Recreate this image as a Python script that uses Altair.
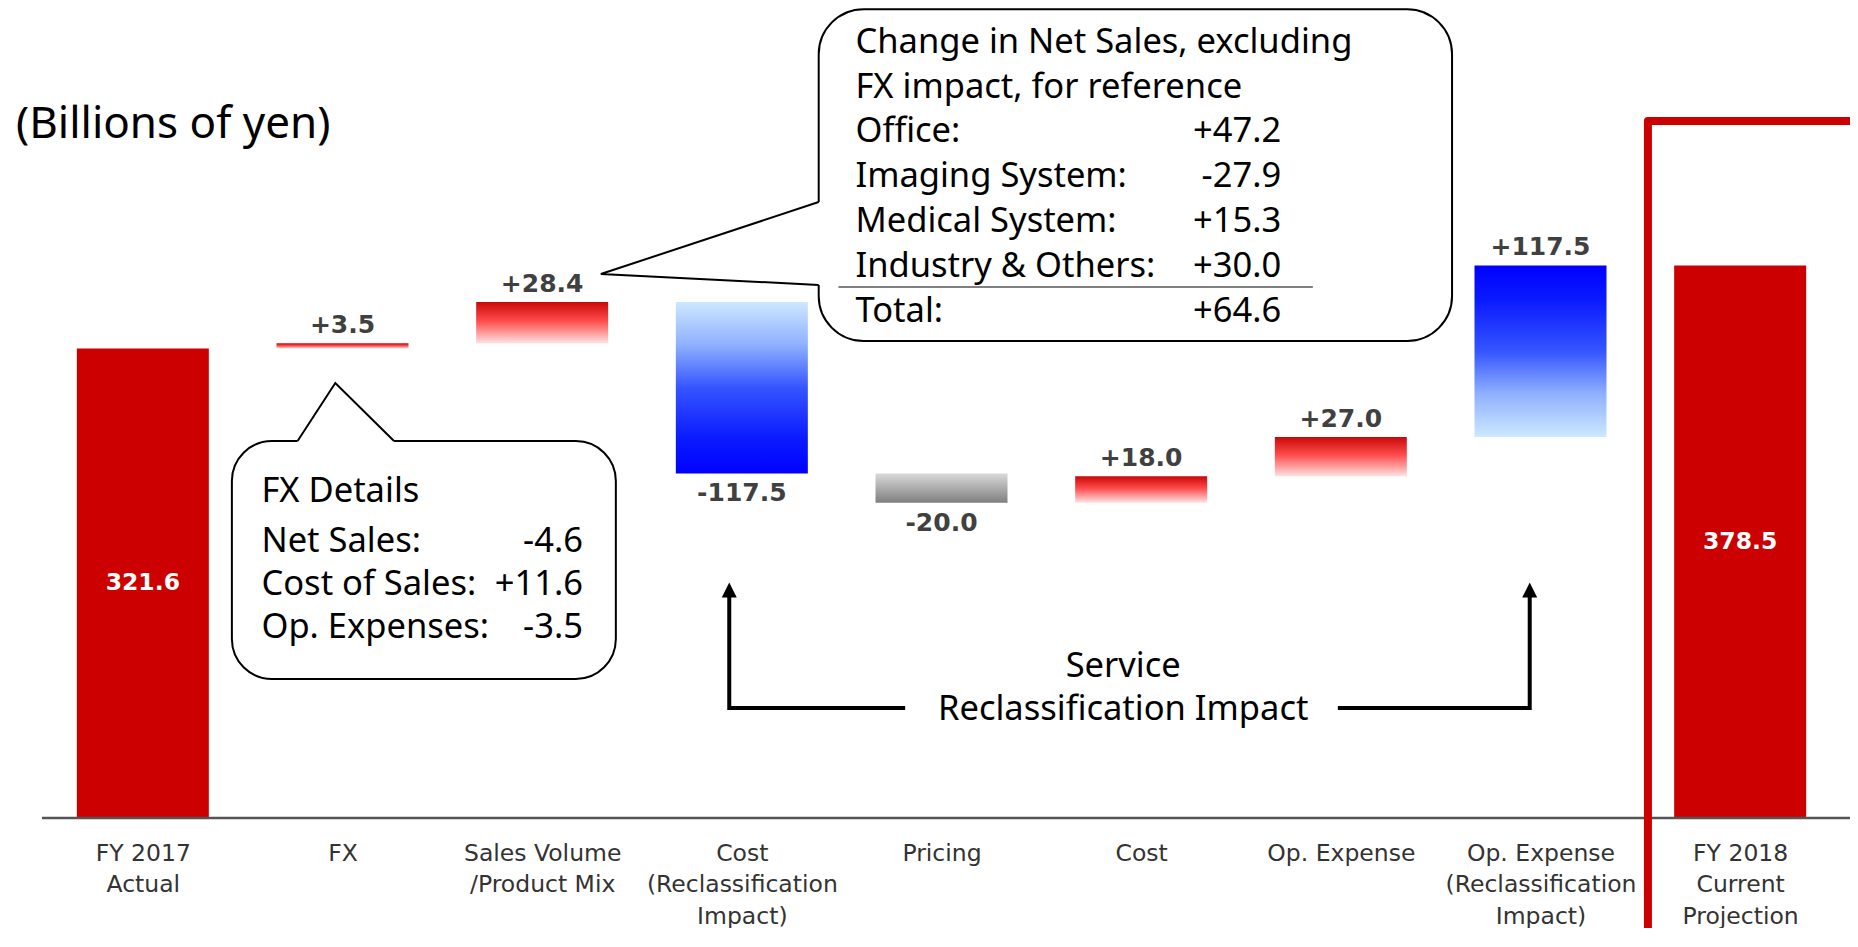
import json
import altair as alt
import pandas as pd

# ---------------- data ----------------
categories = ["FY 2017\nActual", "FX", "Sales Volume\n/Product Mix",
              "Cost\n(Reclassification\nImpact)", "Pricing", "Cost", "Op. Expense",
              "Op. Expense\n(Reclassification\nImpact)", "FY 2018\nCurrent\nProjection"]
values = [321.6, 3.5, 28.4, -117.5, -20.0, 18.0, 27.0, 117.5, 378.5]
kinds = ["total", "red", "red", "blue_down", "gray", "red", "red", "blue_up", "total"]
value_labels = ["321.6", "+3.5", "+28.4", "-117.5", "-20.0", "+18.0", "+27.0", "+117.5", "378.5"]

# callout: change in net sales
big_lines = ["Change in Net Sales, excluding", "FX impact, for reference", "Office:",
             "Imaging System:", "Medical System:", "Industry & Others:", "Total:"]
big_vals = ["", "", "+47.2", "-27.9", "+15.3", "+30.0", "+64.6"]
big_line_y = [530.8, 500.0, 469.9, 439.0, 408.2, 377.4, 346.6]
big_box_x = [3.385, 6.557]
big_box_y = [326.7, 554.0]
big_ptr_x = [3.385, 2.294, 3.385]
big_ptr_y = [421.9, 372.6, 365.1]
big_text_x = [3.569, 5.701]
big_sep = [3.484, 5.860, 363.7]

# callout: FX details
fx_lines = ["FX Details", "Net Sales:", "Cost of Sales:", "Op. Expenses:"]
fx_vals = ["", "-4.6", "+11.6", "-3.5"]
fx_line_y = [223.3, 189.0, 159.6, 130.1]
fx_box_x = [0.446, 2.369]
fx_box_y = [95.2, 258.2]
fx_ptr_x = [0.775, 0.964, 1.258]
fx_ptr_y = [258.2, 297.9, 258.2]
fx_text_x = [0.594, 2.204]

# service reclassification arrows
arrow_left_x = [3.818, 2.937, 2.937]
arrow_right_x = [5.985, 6.946, 6.946]
arrow_y = [75.3, 75.3, 152.7]
arrow_head_y = 156.2
service_text = ["Service", "Reclassification Impact"]
service_y = [103.4, 74.0]
service_x = 4.91

# projection frame
frame_x = [7.538, 7.538, 8.7]
frame_y = [-95.0, 477.4, 477.4]

# baseline extent
baseline_x = [-0.505, 8.7]

unit_text = "(Billions of yen)"
unit_pos = [-0.635, 474.7]

# ---------------- tables ----------------
rows = []
running = 0.0
for i, (c, v, k, lab) in enumerate(zip(categories, values, kinds, value_labels)):
    if k == "total":
        start, end = 0.0, v
    else:
        start, end = running, running + v
    running = end
    rows.append(dict(idx=i, cat=c, start=start, end=end, kind=k, label=lab,
                     sign=("total" if k == "total" else ("pos" if v >= 0 else "neg")),
                     mid=(start + end) / 2))
df = pd.DataFrame(rows)

W, H = 1807, 810
xs = alt.Scale(domain=[-0.5, 8.5], nice=False, zero=False)
ys = alt.Scale(domain=[0, 554.8], nice=False, zero=False)

label_expr = "[" + ",".join(json.dumps(c.split("\n")) for c in categories) + "][datum.value]"

x_axis = alt.Axis(values=list(range(len(categories))), labelExpr=label_expr, title=None,
                  domain=False, ticks=False, grid=False,
                  labelFont="DejaVu Sans", labelFontSize=23.5, labelColor="#333333",
                  labelLineHeight=31.5, labelPadding=23, labelBaseline="top",
                  labelLimit=400, labelOverlap=False, labelFlush=False, labelBound=False)


def X(field):
    return alt.X(f"{field}:Q", scale=xs, axis=x_axis)


def Y(field):
    return alt.Y(f"{field}:Q", scale=ys, axis=None)


def grad(stops):
    return alt.Gradient(gradient="linear", x1=0, x2=0, y1=0, y2=1,
                        stops=[alt.GradientStop(offset=o, color=c) for o, c in stops])


fills = {
    "total": "#CC0000",
    "red": grad([(0, "#C80808"), (0.45, "#FF4A4A"), (1, "#FFE2E2")]),
    "blue_down": grad([(0, "#CDE8FF"), (0.25, "#8FB0FF"), (0.5, "#3555FF"), (0.8, "#0A1AFF"), (1, "#0000FF")]),
    "blue_up": grad([(0, "#0000FF"), (0.2, "#0A1AFF"), (0.5, "#3555FF"), (0.75, "#8FB0FF"), (1, "#CDE8FF")]),
    "gray": grad([(0, "#DADADA"), (1, "#7F7F7F")]),
}

base = alt.Chart(df)
layers = []
for k, f in fills.items():
    layers.append(
        base.transform_filter(alt.datum.kind == k)
        .mark_bar(width=132, color=f)
        .encode(x=X("idx"), y=Y("start"), y2="end:Q")
    )

# baseline (x axis line)
bl = pd.DataFrame(dict(x=[baseline_x[0]], x2=[baseline_x[1]], y=[0.0]))
layers.append(alt.Chart(bl).mark_rule(color="#555555", strokeWidth=2.5)
              .encode(x=X("x"), x2="x2:Q", y=Y("y")))

lab_font = dict(font="DejaVu Sans", fontWeight="bold", fontSize=25, color="#404040")
layers.append(base.transform_filter(alt.datum.sign == "pos")
              .mark_text(dy=-18, baseline="middle", **lab_font)
              .encode(x=X("idx"), y=Y("end"), text="label:N"))
layers.append(base.transform_filter(alt.datum.sign == "neg")
              .mark_text(dy=20, baseline="middle", **lab_font)
              .encode(x=X("idx"), y=Y("end"), text="label:N"))
layers.append(base.transform_filter(alt.datum.sign == "total")
              .mark_text(baseline="middle", font="DejaVu Sans", fontWeight="bold", fontSize=23.5, color="white")
              .encode(x=X("idx"), y=Y("mid"), text="label:N"))


def enc_xy(xf="x", yf="y"):
    return dict(x=X(xf), y=Y(yf))


ann_font = "Noto Sans"
ann_size = 34.5


def callout(box_x, box_y, ptr_x, ptr_y, radius, lines, vals, line_y, text_x, vertical_edge):
    out = []
    box = pd.DataFrame(dict(x=[box_x[0]], x2=[box_x[1]], y=[box_y[0]], y2=[box_y[1]]))
    out.append(alt.Chart(box).mark_rect(cornerRadius=radius, fill="white", stroke="black", strokeWidth=2)
               .encode(**enc_xy(), x2="x2:Q", y2="y2:Q"))
    if vertical_edge:
        cover = pd.DataFrame(dict(x=[ptr_x[0]], y=[ptr_y[0]], y2=[ptr_y[2]]))
        out.append(alt.Chart(cover).mark_rule(color="white", strokeWidth=5)
                   .encode(**enc_xy(), y2="y2:Q"))
    else:
        cover = pd.DataFrame(dict(x=[ptr_x[0]], x2=[ptr_x[2]], y=[ptr_y[0]]))
        out.append(alt.Chart(cover).mark_rule(color="white", strokeWidth=5)
                   .encode(**enc_xy(), x2="x2:Q"))
    ptr = pd.DataFrame(dict(x=ptr_x, y=ptr_y, o=list(range(len(ptr_x)))))
    out.append(alt.Chart(ptr).mark_line(color="black", strokeWidth=2, strokeJoin="miter")
               .encode(**enc_xy(), order="o:Q"))
    t = pd.DataFrame(dict(x=[text_x[0]] * len(lines), x2=[text_x[1]] * len(lines),
                          y=line_y, t=lines, v=vals))
    out.append(alt.Chart(t).mark_text(align="left", baseline="middle", font=ann_font,
                                      fontSize=ann_size, color="black")
               .encode(**enc_xy(), text="t:N"))
    out.append(alt.Chart(t).mark_text(align="right", baseline="middle", font=ann_font,
                                      fontSize=ann_size, color="black")
               .encode(**enc_xy("x2", "y"), text="v:N"))
    return out


layers += callout(big_box_x, big_box_y, big_ptr_x, big_ptr_y, 45, big_lines, big_vals,
                  big_line_y, big_text_x, True)
sep = pd.DataFrame(dict(x=[big_sep[0]], x2=[big_sep[1]], y=[big_sep[2]]))
layers.append(alt.Chart(sep).mark_rule(color="#555555", strokeWidth=1.5).encode(**enc_xy(), x2="x2:Q"))
layers += callout(fx_box_x, fx_box_y, fx_ptr_x, fx_ptr_y, 40, fx_lines, fx_vals,
                  fx_line_y, fx_text_x, False)

# arrows
for ax in (arrow_left_x, arrow_right_x):
    a = pd.DataFrame(dict(x=ax, y=arrow_y, o=[0, 1, 2]))
    layers.append(alt.Chart(a).mark_line(color="black", strokeWidth=4, strokeJoin="miter")
                  .encode(**enc_xy(), order="o:Q"))
heads = pd.DataFrame(dict(x=[arrow_left_x[-1], arrow_right_x[-1]], y=[arrow_head_y] * 2))
layers.append(alt.Chart(heads).mark_point(shape="M0,-1L1,1L-1,1Z", size=225, filled=True,
                                          color="black", opacity=1)
              .encode(**enc_xy()))
st = pd.DataFrame(dict(x=[service_x] * 2, y=service_y, t=service_text))
layers.append(alt.Chart(st).mark_text(align="center", baseline="middle", font=ann_font,
                                      fontSize=ann_size, color="black")
              .encode(**enc_xy(), text="t:N"))

# projection frame
fr = pd.DataFrame(dict(x=frame_x, y=frame_y, o=[0, 1, 2]))
layers.append(alt.Chart(fr).mark_line(color="#CC0000", strokeWidth=8, strokeJoin="round")
              .encode(**enc_xy(), order="o:Q"))

# unit text
ut = pd.DataFrame(dict(x=[unit_pos[0]], y=[unit_pos[1]], t=[unit_text]))
layers.append(alt.Chart(ut).mark_text(align="left", baseline="middle", font=ann_font,
                                      fontSize=44, color="black")
              .encode(**enc_xy(), text="t:N"))

chart = alt.layer(*layers).properties(
    width=W, height=H,
    autosize=alt.AutoSizeParams(type="none"),
    padding={"left": 30, "top": 0, "right": 5, "bottom": 110},
    background="white",
).configure_view(stroke=None)

chart.save("out.html", embed_options={"renderer": "svg", "actions": False})
